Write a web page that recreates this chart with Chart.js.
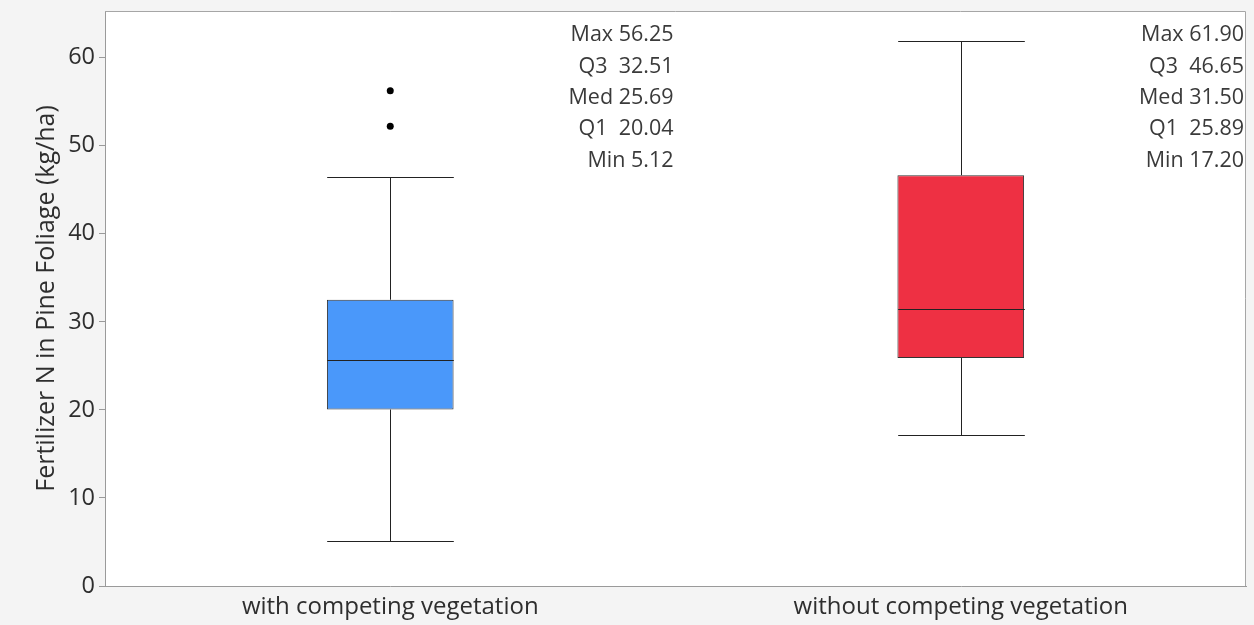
<!DOCTYPE html>
<html>
<head>
<meta charset="utf-8">
<script src="https://cdn.jsdelivr.net/npm/chart.js@4/dist/chart.umd.min.js"></script>
<style>
  html, body { margin: 0; padding: 0; background: #f4f4f4; }
  #wrap { width: 1254px; height: 625px; }
</style>
</head>
<body>
<div id="wrap"><canvas id="c" width="1254" height="625"></canvas></div>
<script>
// Fertilizer N recovered in pine foliage, by competing-vegetation treatment
const groups = ['with competing vegetation', 'without competing vegetation'];
const minVals = [5.12, 17.20];
const q1Vals = [20.04, 25.89];
const medVals = [25.69, 31.50];
const q3Vals = [32.51, 46.65];
const maxVals = [56.25, 61.90];
// whisker ends (largest / smallest value within the fences)
const whiskerLow = [5.12, 17.20];
const whiskerHigh = [46.5, 61.90];
// points beyond the upper fence
const outlierGroup = [groups[0], groups[0]];
const outlierVals = [56.25, 52.2];
const yTicks = [0, 10, 20, 30, 40, 50, 60];

const boxColors = ['#4a98fa', '#ee3043'];
const FONT = '"Segoe UI", "Open Sans", sans-serif';

const summaryLines = i => [
  'Max ' + maxVals[i].toFixed(2),
  'Q3  ' + q3Vals[i].toFixed(2),
  'Med ' + medVals[i].toFixed(2),
  'Q1  ' + q1Vals[i].toFixed(2),
  'Min ' + minVals[i].toFixed(2)
];

// Plot-area background and frame
const framePlugin = {
  id: 'frame',
  beforeDraw(chart) {
    const { ctx, chartArea: a } = chart;
    ctx.save();
    ctx.fillStyle = '#f4f4f4';
    ctx.fillRect(0, 0, chart.width, chart.height);
    ctx.fillStyle = '#ffffff';
    ctx.fillRect(a.left, a.top, a.right - a.left, a.bottom - a.top);
    ctx.restore();
  },
  afterDraw(chart) {
    const { ctx, chartArea: a } = chart;
    ctx.save();
    ctx.strokeStyle = '#a6a6a6';
    ctx.lineWidth = 1;
    ctx.beginPath();
    ctx.moveTo(a.left, a.top + 0.5);
    ctx.lineTo(a.right - 0.5, a.top + 0.5);
    ctx.lineTo(a.right - 0.5, a.bottom);
    ctx.stroke();
    ctx.restore();
  }
};

// Whiskers, caps, medians and the per-group summary text
const boxPlugin = {
  id: 'boxParts',
  afterDatasetsDraw(chart) {
    const { ctx, chartArea: a } = chart;
    const xs = chart.scales.x, ys = chart.scales.y;
    const bars = chart.getDatasetMeta(0).data;
    const snap = v => Math.round(v) + 0.5;
    ctx.save();
    ctx.strokeStyle = '#222222';
    ctx.lineWidth = 1;
    groups.forEach((g, i) => {
      const cx = snap(xs.getPixelForValue(i));
      const half = bars[i].width / 2;
      const yQ1 = ys.getPixelForValue(q1Vals[i]);
      const yQ3 = ys.getPixelForValue(q3Vals[i]);
      const yLo = snap(ys.getPixelForValue(whiskerLow[i]));
      const yHi = snap(ys.getPixelForValue(whiskerHigh[i]));
      const yMed = snap(ys.getPixelForValue(medVals[i]));
      ctx.beginPath();
      ctx.moveTo(cx, yQ3); ctx.lineTo(cx, yHi);
      ctx.moveTo(cx, yQ1); ctx.lineTo(cx, yLo);
      ctx.moveTo(cx - half, yHi); ctx.lineTo(cx + half, yHi);
      ctx.moveTo(cx - half, yLo); ctx.lineTo(cx + half, yLo);
      ctx.moveTo(cx - half, yMed); ctx.lineTo(cx + half, yMed);
      ctx.stroke();

      // summary statistics, right-aligned in the group's band
      const band = xs.width / groups.length;
      const tx = xs.getPixelForValue(i) + band / 2 - 2;
      ctx.fillStyle = '#3a3a3a';
      ctx.font = '21.5px ' + FONT;
      ctx.textAlign = 'right';
      ctx.textBaseline = 'middle';
      summaryLines(i).forEach((t, k) => {
        ctx.fillText(t, tx, a.top + 24 + k * 31.4);
      });
    });
    ctx.restore();
  }
};

new Chart(document.getElementById('c'), {
  type: 'bar',
  data: {
    labels: groups,
    datasets: [
      {
        type: 'bar',
        data: groups.map((g, i) => [q1Vals[i], q3Vals[i]]),
        backgroundColor: boxColors,
        borderColor: '#333333',
        borderWidth: 1,
        borderSkipped: false,
        categoryPercentage: 1,
        barPercentage: 0.222,
        order: 2
      },
      {
        type: 'line',
        data: outlierGroup.map((g, i) => ({ x: g, y: outlierVals[i] })),
        showLine: false,
        pointRadius: 3.5,
        pointBackgroundColor: '#000000',
        pointBorderColor: '#000000',
        pointBorderWidth: 0,
        order: 1
      }
    ]
  },
  options: {
    responsive: false,
    animation: false,
    events: [],
    layout: { padding: { top: 11, right: 8, left: 0, bottom: 0 } },
    plugins: { legend: { display: false }, tooltip: { enabled: false } },
    scales: {
      x: {
        grid: { display: false, drawTicks: false },
        border: { display: true, color: '#9a9a9a', width: 1 },
        ticks: { color: '#2e2e2e', font: { family: FONT, size: 24 }, padding: 7, maxRotation: 0 },
        afterFit(s) { s.height = 39; s.paddingLeft = 0; s.paddingRight = 0; }
      },
      y: {
        min: 0,
        max: 65.3,
        afterBuildTicks(s) { s.ticks = yTicks.map(v => ({ value: v })); },
        grid: { display: true, drawOnChartArea: false, drawTicks: true, tickLength: 6, color: '#9a9a9a' },
        border: { display: true, color: '#9a9a9a', width: 1 },
        ticks: { color: '#2e2e2e', font: { family: FONT, size: 23.5 }, padding: 4 },
        title: {
          display: true,
          text: 'Fertilizer N in Pine Foliage (kg/ha)',
          color: '#2e2e2e',
          font: { family: FONT, size: 25 },
          padding: { top: 32, bottom: 0 }
        },
        afterFit(s) { s.width = 105; s.paddingTop = 0; s.paddingBottom = 0; }
      }
    }
  },
  plugins: [framePlugin, boxPlugin]
});
</script>
</body>
</html>
